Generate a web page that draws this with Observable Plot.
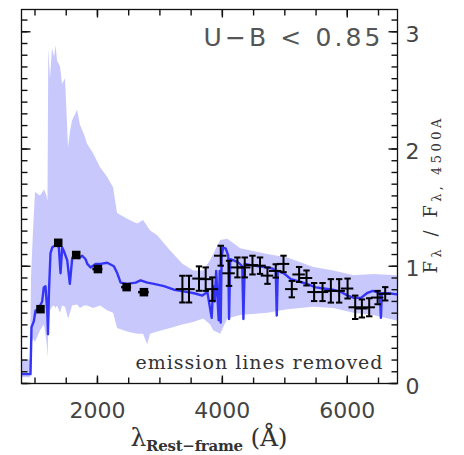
<!DOCTYPE html>
<html><head><meta charset="utf-8">
<script src="https://cdn.jsdelivr.net/npm/d3@7"></script>
<script src="https://cdn.jsdelivr.net/npm/@observablehq/plot@0.6"></script>
<style>body{margin:0;background:#fff}</style>
</head><body><div id="chart"></div>
<script>
// model spectrum (rest-frame wavelength, normalized flux)
const specX = [795, 928, 944, 981, 1008, 1061, 1115, 1141, 1168, 1196, 1208, 1224, 1248, 1276, 1301, 1356, 1382, 1409, 1436, 1462, 1516, 1558, 1596, 1649, 1702, 1757, 1810, 1837, 1890, 1970, 2050, 2157, 2263, 2318, 2371, 2478, 2611, 2691, 2799, 2904, 3065, 3225, 3332, 3546, 3680, 3760, 3797, 3829, 3853, 3877, 3901, 3925, 3941, 3958, 3973, 3989, 4014, 4054, 4094, 4107, 4126, 4182, 4262, 4318, 4337, 4358, 4455, 4583, 4711, 4807, 4855, 4871, 4887, 4983, 5096, 5224, 5352, 5497, 5625, 5769, 5898, 6009, 6106, 6218, 6314, 6410, 6522, 6538, 6554, 6666, 6794];
const specY = [0.08, 0.08, 0.48, 0.53, 0.62, 0.64, 0.70, 0.82, 0.83, 0.62, 0.42, 0.79, 1.11, 1.16, 1.17, 1.19, 1.16, 0.94, 1.16, 1.13, 1.05, 0.85, 1.07, 1.11, 1.07, 1.09, 1.06, 1.02, 0.99, 1.02, 1.02, 1.03, 1.00, 0.94, 0.86, 0.85, 0.86, 0.88, 0.86, 0.85, 0.83, 0.80, 0.79, 0.77, 0.75, 0.78, 0.66, 0.56, 0.83, 0.70, 0.96, 0.70, 0.54, 0.96, 0.52, 1.09, 1.16, 1.15, 1.09, 0.55, 1.06, 1.05, 1.03, 1.00, 0.55, 1.02, 1.01, 1.00, 0.99, 0.98, 0.96, 0.58, 0.96, 0.94, 0.89, 0.87, 0.85, 0.82, 0.81, 0.80, 0.78, 0.75, 0.73, 0.73, 0.77, 0.79, 0.77, 0.56, 0.77, 0.77, 0.76];

// range band
const bandX  = [792, 928, 944, 976, 1008, 1088, 1152, 1192, 1208, 1221, 1248, 1281, 1313, 1337, 1361, 1409, 1441, 1489, 1537, 1569, 1601, 1681, 1729, 1793, 1842, 1938, 2050, 2162, 2258, 2322, 2483, 2643, 2739, 2803, 2851, 2964, 3172, 3364, 3541, 3701, 3813, 3861, 3973, 4086, 4294, 4727, 5048, 5465, 5785, 6106, 6426, 6811];
const bandHi = [0.20, 0.20, 0.90, 1.30, 1.63, 1.60, 1.65, 1.60, 1.55, 2.86, 2.60, 2.86, 2.78, 2.88, 2.75, 2.70, 2.55, 2.60, 2.01, 2.15, 2.24, 2.33, 2.20, 2.12, 2.04, 1.96, 1.84, 1.76, 1.67, 1.45, 1.40, 1.36, 1.39, 1.34, 1.30, 1.26, 1.13, 1.02, 0.96, 0.96, 1.05, 1.10, 1.22, 1.23, 1.15, 1.10, 1.07, 0.99, 0.96, 0.92, 0.93, 0.92];
const bandLo = [0.05, 0.05, 0.30, 0.38, 0.35, 0.45, 0.50, 0.35, 0.22, 0.45, 0.62, 0.65, 0.66, 0.64, 0.66, 0.60, 0.66, 0.65, 0.55, 0.60, 0.66, 0.67, 0.64, 0.66, 0.66, 0.64, 0.66, 0.62, 0.60, 0.47, 0.44, 0.42, 0.42, 0.33, 0.42, 0.44, 0.47, 0.50, 0.52, 0.55, 0.50, 0.45, 0.42, 0.55, 0.58, 0.60, 0.63, 0.65, 0.64, 0.60, 0.58, 0.53];

// UV photometric points (squares)
const uvX    = [1088, 1372, 1660, 2007, 2467, 2744];
const uvY    = [0.634, 1.20, 1.096, 0.976, 0.822, 0.779];
const uvXErr = [0, 0, 0, 80, 80, 85];

// spectral points with error bars
const ptX    = [3360, 3466, 3626, 3733, 3840, 3974, 4107, 4241, 4358, 4482, 4603, 4722, 4855, 4979, 5112, 5229, 5347, 5469, 5604, 5737, 5870, 6005, 6127, 6234, 6351, 6486, 6607];
const ptY    = [0.805, 0.805, 0.895, 0.89, 0.805, 1.09, 0.94, 0.99, 0.99, 1.01, 1.005, 0.92, 0.96, 1.02, 0.805, 0.93, 0.90, 0.78, 0.78, 0.79, 0.79, 0.81, 0.65, 0.64, 0.65, 0.733, 0.765];
const ptErr  = [0.114, 0.114, 0.104, 0.10, 0.10, 0.085, 0.107, 0.085, 0.085, 0.08, 0.07, 0.07, 0.057, 0.07, 0.07, 0.064, 0.064, 0.077, 0.077, 0.10, 0.10, 0.085, 0.10, 0.077, 0.077, 0.057, 0.057];
const ptXErr = 100;

// ticks
const xMinor = d3.range(1000, 7000, 500);
const xMajor = [2000, 4000, 6000];
const yMinor = d3.range(0, 32).map(i => i / 10);
const yMajor = [0, 1, 2, 3];

const titleText = "U\u2212B < 0.85";
const noteText = "emission lines removed";

const xDom = [784, 6804], yDom = [0, 3.19];
const W = 464, H = 455, mL = 21, mR = 67, mT = 9, mB = 72;

const ix = (a) => a.map((_, i) => i);
const cap = {draw(ctx) { ctx.moveTo(-3.2, 0); ctx.lineTo(3.2, 0); }};
const seg = (dx, dy) => ({draw(ctx) { ctx.moveTo(0, 0); ctx.lineTo(dx, dy); }});
const tickStroke = "#111";
const tk = (data, ch, side, len) => {
  const dir = {bottom: [0, -len], top: [0, len], left: [len, 0], right: [-len, 0]}[side];
  return Plot.dot(data, {[ch]: d => d, frameAnchor: side, symbol: seg(dir[0], dir[1]),
    stroke: tickStroke, strokeWidth: 1.4, fill: "none", r: 4});
};

const plot = Plot.plot({
  width: W, height: H,
  marginLeft: mL, marginRight: mR, marginTop: mT, marginBottom: mB,
  x: {domain: xDom},
  y: {domain: yDom},
  style: {fontFamily: "DejaVu Sans", fontSize: "22px", color: "#444", background: "white", overflow: "visible"},
  marks: [
    Plot.areaY(ix(bandX), {x: i => bandX[i], y1: i => bandLo[i], y2: i => bandHi[i], fill: "#c8c8fd", curve: "linear"}),
    Plot.line(ix(specX), {x: i => specX[i], y: i => specY[i], stroke: "#3535f8", strokeWidth: 2.4}),
    // UV squares
    Plot.ruleY(ix(uvX).filter(i => uvXErr[i] > 0), {y: i => uvY[i], x1: i => uvX[i] - uvXErr[i], x2: i => uvX[i] + uvXErr[i], stroke: "black", strokeWidth: 2.5}),
    Plot.dot(ix(uvX), {x: i => uvX[i], y: i => uvY[i], symbol: "square", r: 4.8, fill: "black"}),
    // error-bar points
    Plot.ruleY(ix(ptX), {y: i => ptY[i], x1: i => ptX[i] - ptXErr, x2: i => ptX[i] + ptXErr, stroke: "black", strokeWidth: 2}),
    Plot.ruleX(ix(ptX), {x: i => ptX[i], y1: i => ptY[i] - ptErr[i], y2: i => ptY[i] + ptErr[i], stroke: "black", strokeWidth: 2}),
    Plot.dot(ix(ptX), {x: i => ptX[i], y: i => ptY[i] + ptErr[i], symbol: cap, stroke: "black", strokeWidth: 2, fill: "none", r: 3}),
    Plot.dot(ix(ptX), {x: i => ptX[i], y: i => ptY[i] - ptErr[i], symbol: cap, stroke: "black", strokeWidth: 2, fill: "none", r: 3}),
    // texts
    Plot.text([titleText], {frameAnchor: "top-right", dx: -17, dy: 28, textAnchor: "end", lineAnchor: "middle", fontSize: 25, fontFamily: "DejaVu Sans", fill: "#555", text: d => d}),
    Plot.text([noteText], {frameAnchor: "bottom-right", dx: -15, dy: -21, textAnchor: "end", lineAnchor: "middle", fontSize: 19, fontFamily: "DejaVu Serif", fill: "#333", text: d => d}),
    // inward ticks (drawn as short path symbols anchored to the frame)
    tk(xMinor, "x", "bottom", 6), tk(xMajor, "x", "bottom", 8),
    tk(xMinor, "x", "top", 6), tk(xMajor, "x", "top", 8),
    tk(yMinor, "y", "left", 6), tk(yMajor, "y", "left", 9),
    tk(yMinor, "y", "right", 6), tk(yMajor, "y", "right", 9),
    // tick labels
    Plot.axisX({anchor: "bottom", ticks: xMajor, tickSize: 0, tickPadding: 19, tickFormat: d => String(d), label: null, fill: "#444"}),
    Plot.axisY({anchor: "right", ticks: yMajor, tickSize: 0, tickPadding: 8, dy: 3, tickFormat: d => String(d), label: null, fill: "#444"}),
    Plot.frame({stroke: "#111", strokeWidth: 1.3})
  ]
});

document.getElementById("chart").appendChild(plot);
const svg = d3.select(plot);
const stretch = (txt, len) => svg.selectAll("text").filter(function() { return this.textContent === txt; })
  .attr("textLength", len).attr("lengthAdjust", "spacing");
stretch(titleText, 177);
stretch(noteText, 247);

const xs = plot.scale("x"), ys = plot.scale("y");
const cx = (xs.range[0] + xs.range[1]) / 2;
const cy = (ys.range[0] + ys.range[1]) / 2;

// x-axis label
const xl = svg.append("text")
  .attr("x", cx).attr("y", 446).attr("text-anchor", "middle")
  .attr("font-family", "DejaVu Serif").attr("font-size", 25).attr("fill", "#333");
xl.append("tspan").text("\u03bb");
xl.append("tspan").attr("font-size", 15).attr("dy", 5).attr("font-weight", "bold").text("Rest\u2212frame");
xl.append("tspan").attr("dy", -5).text(" (\u00c5)");
xl.attr("textLength", 157).attr("lengthAdjust", "spacing");

// y-axis label (right side)
const yl = svg.append("text")
  .attr("transform", `translate(437,${cy}) rotate(-90)`).attr("text-anchor", "middle")
  .attr("font-family", "DejaVu Serif").attr("font-size", 18).attr("fill", "#333");
yl.append("tspan").text("F");
yl.append("tspan").attr("font-size", 13).attr("dy", 4).text("\u03bb");
yl.append("tspan").attr("dy", -4).text(" / F");
yl.append("tspan").attr("font-size", 13).attr("dy", 4).text("\u03bb, 4500A");
yl.attr("textLength", 155).attr("lengthAdjust", "spacing");
</script>
</body></html>
